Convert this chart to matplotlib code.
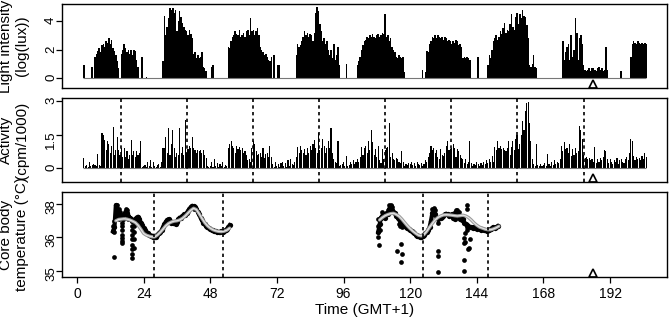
import numpy as np
import matplotlib
matplotlib.use('Agg')
import matplotlib.pyplot as plt

plt.rcParams['font.family'] = ['Liberation Sans', 'DejaVu Sans']
plt.rcParams['font.size'] = 11

# light intensity, log(lux), one value every 0.5 h from t = 2.0
light_start = 2.0
light = [
    0, 0.95, 0, 0, 0, 0, 0, 0.8, 0, 1.5, 1.7, 1.9, 2.1, 1.8, 2.3, 2.4, 2.2, 2.6, 2.5, 2.8, 2.4, 2.7, 2.1, 1.9,
    1.6, 1.2, 0.7, 0, 1.7, 2.0, 2.4, 2.1, 1.8, 2.0, 1.7, 2.0, 1.6, 2.0, 1.9, 1.3, 0.8, 0, 0, 1.5, 0, 0, 0.1, 0,
    0, 0, 0, 0, 0, 0, 0, 0, 0, 0, 1.2, 4.4, 3.0, 3.6, 4.2, 4.9, 4.8, 4.9, 4.6, 4.8, 3.3, 4.0, 4.7, 4.3,
    3.9, 3.6, 3.4, 3.3, 3.0, 3.4, 3.1, 2.8, 1.7, 1.8, 1.4, 1.6, 1.4, 1.5, 1.8, 0.8, 0.7, 0.5, 0, 0, 0, 0.8, 0.9, 0,
    0, 0, 0, 0, 0, 0, 0, 0, 0, 2.2, 2.1, 2.6, 2.9, 3.0, 3.3, 3.1, 3.0, 3.4, 2.9, 3.0, 3.2, 2.9, 3.3, 3.4,
    3.0, 4.2, 3.3, 3.4, 3.0, 3.3, 3.5, 3.0, 2.2, 2.0, 1.8, 1.6, 1.7, 1.5, 1.3, 1.2, 1.5, 0, 1.65, 0, 0, 0.9, 0.9, 0,
    0, 0, 0, 0, 0, 0, 0, 0, 0, 0, 1.65, 2.4, 2.2, 2.3, 2.6, 2.9, 3.3, 3.0, 3.2, 2.9, 3.1, 3.0, 2.6, 3.2,
    4.6, 5.0, 4.7, 3.8, 3.3, 2.6, 2.8, 2.4, 2.6, 2.0, 1.65, 2.0, 1.4, 2.4, 1.3, 1.6, 2.2, 0.9, 0, 0, 0, 0, 1.0, 0,
    0, 0, 0, 0, 0, 0, 0.9, 1.2, 1.5, 1.95, 2.3, 2.6, 2.7, 2.9, 2.8, 3.0, 2.9, 3.1, 2.9, 2.8, 3.0, 3.1, 2.9, 3.0,
    3.2, 3.1, 4.5, 2.9, 3.0, 2.6, 2.8, 2.2, 2.0, 1.8, 1.5, 1.4, 1.6, 1.5, 1.4, 1.5, 0.4, 0, 0, 0, 0, 0, 0, 0,
    0, 0, 0, 0, 0, 0.55, 0, 0.4, 1.9, 1.8, 2.4, 2.6, 2.9, 2.8, 3.0, 2.8, 3.0, 2.9, 2.8, 2.9, 2.7, 2.9, 2.8, 2.6,
    2.7, 2.6, 2.4, 2.6, 2.5, 2.7, 2.6, 2.3, 2.4, 2.2, 1.4, 1.5, 1.4, 1.5, 1.4, 1.3, 0, 0, 0, 0, 0, 1.5, 0, 0,
    0, 0, 0, 0, 0.9, 1.6, 1.4, 2.0, 2.6, 2.8, 3.0, 2.7, 2.9, 3.3, 3.1, 3.5, 3.9, 3.2, 3.4, 3.3, 3.8, 4.5, 3.6, 3.4,
    4.3, 4.6, 3.8, 4.5, 4.2, 4.8, 4.4, 4.3, 3.7, 2.8, 0.9, 0.8, 1.0, 1.65, 0.8, 0.7, 0, 0, 0, 0, 0, 0, 0, 0,
    0, 0, 0, 0, 0, 0, 0, 0, 0, 0, 2.6, 1.3, 1.8, 2.2, 2.4, 1.3, 3.0, 1.5, 2.0, 4.2, 3.2, 1.3, 2.8, 3.0,
    2.4, 0.9, 0.6, 0.5, 0.6, 0.7, 0.5, 0.7, 0.7, 0.6, 0.5, 0.7, 0.8, 0.6, 0.7, 0.5, 0.6, 2.2, 0.6, 0, 0, 0, 0, 0,
    0, 0, 0, 0, 0.5, 0, 0, 0, 0, 0, 0, 1.5, 2.4, 2.6, 2.5, 2.4, 2.6, 2.5, 2.4, 2.5, 2.4, 2.5, 2.4,
]

# activity, cpm/1000, one value every 0.5 h from t = 2.0
activity_start = 2.0
activity = [
    0, 0.45, 0.1, 0.15, 0.05, 0.3, 0.1, 0.15, 0.2, 0.15, 0.1, 0.65, 0.15, 0.1, 1.55, 1.5, 1.25, 0.8, 1.2, 1.1, 0.7, 1.0, 1.85, 0.6,
    0.8, 1.4, 0.8, 0.6, 0.9, 0.5, 0.9, 0.5, 0.75, 0.4, 0.6, 1.25, 0.6, 0.75, 0.5, 0.75, 0.6, 0.7, 1.2, 0.05, 0.1, 0.15, 0.05, 0.3,
    0.1, 0.35, 0.05, 0.3, 0.1, 0.05, 0.15, 0.2, 0.05, 0.3, 0.9, 0.9, 1.4, 0.7, 1.8, 0.6, 1.1, 1.7, 0.9, 0.5, 0.7, 0.6, 1.8, 0.7,
    0.95, 0.6, 2.15, 0.7, 0.85, 1.0, 0.9, 1.4, 0.9, 0.8, 0.7, 0.8, 0.75, 0.8, 0.7, 0.8, 0.6, 0.45, 0.1, 0.05, 0.1, 0.3, 0.05, 0.4,
    0.1, 0.25, 0.05, 0.2, 0.1, 0.3, 0.05, 0.15, 0.1, 0.9, 1.1, 1.2, 1.0, 0.9, 0.7, 1.0, 0.85, 0.95, 0.8, 0.9, 0.7, 0.75, 0.6, 0.35,
    0.4, 0.3, 0.9, 1.2, 1.1, 0.75, 0.6, 0.65, 0.7, 0.5, 0.9, 0.45, 0.65, 0.7, 0.5, 1.0, 0.5, 0.2, 0.05, 0.3, 0.1, 0.2, 0.05, 0.25,
    0.3, 0.1, 0.25, 0.05, 0.35, 0.1, 0.4, 0.2, 0.15, 0.3, 0.5, 0.95, 0.7, 1.0, 0.8, 0.7, 0.85, 0.6, 0.9, 0.7, 1.0, 0.8, 1.1, 1.25,
    0.9, 0.7, 1.55, 0.8, 0.9, 1.3, 1.0, 0.7, 0.9, 1.2, 0.9, 1.8, 0.7, 0.4, 0.3, 0.25, 1.2, 0.1, 0.15, 0.2, 0.3, 0.1, 0.55, 0.1,
    0.15, 0.3, 0.2, 0.35, 0.2, 0.3, 0.4, 0.3, 0.5, 0.95, 0.6, 0.9, 1.0, 0.7, 1.2, 0.8, 1.7, 1.15, 0.6, 0.85, 0.5, 1.0, 0.35, 0.25,
    0.85, 0.4, 0.8, 0.9, 0.95, 2.0, 0.5, 0.7, 0.4, 0.35, 0.45, 0.4, 0.3, 0.25, 0.75, 0.3, 0.1, 0.2, 0.15, 0.25, 0.2, 0.3, 0.15, 0.25,
    0.1, 0.3, 0.2, 0.15, 0.25, 0.1, 0.2, 0.35, 0.3, 0.5, 0.7, 1.0, 0.8, 0.9, 0.7, 0.8, 0.5, 0.4, 0.85, 0.6, 0.55, 0.7, 1.0, 1.2,
    0.8, 0.85, 0.9, 1.1, 0.9, 0.5, 0.85, 0.75, 0.6, 0.45, 0.4, 0.25, 0.4, 0.2, 0.3, 1.2, 0.25, 0.1, 0.2, 0.15, 0.3, 0.2, 0.1, 0.25,
    0.15, 0.3, 0.2, 0.35, 0.25, 0.4, 0.3, 0.55, 0.3, 0.95, 0.8, 1.2, 0.9, 1.0, 0.85, 0.9, 0.8, 0.75, 0.9, 1.2, 0.6, 0.95, 1.2, 0.8,
    1.3, 1.5, 0.85, 1.1, 1.5, 2.1, 1.7, 2.57, 2.9, 2.95, 2.0, 1.2, 0.4, 0.2, 0.1, 1.1, 0.15, 0.1, 0.2, 0.1, 0.15, 0.25, 0.1, 0.65,
    0.2, 0.1, 0.3, 0.15, 0.35, 0.2, 0.3, 0.25, 0.4, 1.0, 0.75, 1.15, 0.85, 0.9, 0.7, 1.1, 0.55, 0.85, 0.6, 0.9, 0.7, 0.75, 1.9, 1.7,
    1.3, 0.6, 0.45, 0.5, 0.4, 0.45, 0.35, 0.4, 0.3, 0.95, 0.25, 0.4, 0.3, 0.45, 0.35, 0.5, 0.8, 0.75, 0.4, 0.25, 0.4, 0.3, 0.2, 0.35,
    0.3, 0.45, 0.2, 0.35, 0.4, 0.3, 0.25, 0.4, 0.5, 0.35, 0.7, 1.3, 1.2, 0.55, 0.35, 0.5, 0.4, 0.45, 0.35, 0.55, 0.4, 0.7, 0.5,
]

# core body temperature (deg C), every 0.5 h, two recording blocks
temp1_start = 13.0
temp1 = [
    36.25, 36.45, 37.9, 37.6, 37.3, 37.0, 37.1, 36.9, 37.2, 37.4, 37.3, 37.1,
    37.0, 36.9, 36.8, 36.75, 36.9, 37.0, 37.05, 36.9, 36.7, 36.55, 36.4, 36.3,
    36.2, 36.15, 36.1, 36.05, 36.05, 36.0, 35.98, 36.0, 36.1, 36.15, 36.2, 36.3,
    36.45, 36.6, 36.75, 36.85, 36.9, 36.8, 36.7, 36.65, 36.7, 36.6, 36.75, 36.9,
    37.0, 36.95, 37.1, 37.2, 37.15, 37.3, 37.45, 37.6, 37.75, 37.85, 37.8, 37.75,
    37.6, 37.4, 37.2, 37.0, 36.85, 36.7, 36.6, 36.5, 36.45, 36.4, 36.35, 36.3,
    36.3, 36.25, 36.25, 36.2, 36.2, 36.2, 36.25, 36.2, 36.25, 36.3, 36.35, 36.45, 36.55,
]
temp2_start = 108.5
temp2 = [
    36.2, 36.6, 37.0, 37.1, 37.2, 37.0, 37.3, 37.2, 37.6, 37.8, 37.5, 37.4,
    37.3, 37.1, 37.0, 36.9, 36.8, 36.7, 36.6, 36.5, 36.45, 36.4, 36.35, 36.3,
    36.25, 36.2, 36.15, 36.1, 36.05, 36.05, 36.0, 36.0, 36.05, 36.1, 36.15, 36.2,
    36.3, 36.45, 36.8, 37.3, 37.5, 37.2, 37.0, 36.9, 36.95, 37.0, 37.05, 37.1,
    37.2, 37.25, 37.2, 37.1, 37.15, 37.2, 37.0, 36.9, 37.2, 37.3, 37.1, 36.9,
    36.85, 36.9, 36.7, 36.6, 36.55, 36.5, 36.45, 36.45, 36.4, 36.45, 36.4, 36.35,
    36.4, 36.35, 36.3, 36.35, 36.3, 36.3, 36.25, 36.3, 36.3, 36.35, 36.4, 36.45, 36.4, 36.45, 36.5,
]
# additional temperature readings (spread and low outliers)
extra_t = [13.4, 13.0, 13.5, 13.5, 14.0, 14.0, 14.5, 14.5, 15.0, 15.0, 15.5,
           16.3, 16.3, 16.3, 16.3, 16.3, 16.3, 16.3, 17.5, 18.0, 18.5,
           20.0, 20.0, 20.0, 20.0, 20.0, 20.0, 20.0, 20.0, 20.5, 20.5, 20.5, 20.5,
           21.5, 22.0, 41.5, 42.0,
           108.5, 108.5, 108.5, 109.0, 109.0, 110.0, 112.0, 112.5, 113.0, 113.5,
           116.0, 116.5, 117.0, 128.0, 128.5, 129.0, 136.0, 136.5, 137.0, 137.5,
           140.3, 140.3, 108.9, 115.2, 116.7, 116.9, 116.7, 130.1, 130.1, 130.1, 130.2,
           139.4, 139.6, 139.4, 139.9, 140.3, 140.6, 140.9, 141.2, 139.4, 139.3, 141.5]
extra_v = [35.33, 36.5, 36.2, 36.8, 37.4, 37.0, 37.9, 37.1, 37.6, 36.9, 37.4,
           36.7, 36.5, 36.3, 36.1, 35.95, 35.85, 35.75, 37.6, 37.5, 36.9,
           36.5, 36.3, 36.1, 35.9, 35.7, 35.55, 35.4, 35.29, 36.5, 36.2, 35.9, 35.6,
           36.7, 36.75, 37.65, 37.6,
           36.9, 36.5, 36.0, 36.3, 36.95, 37.4, 37.5, 37.9, 37.95, 37.75,
           36.6, 36.5, 36.45, 37.6, 37.7, 37.5, 37.35, 37.5, 37.55, 37.4,
           37.95, 37.6, 35.69, 35.5, 35.72, 35.4, 35.19, 36.66, 35.5, 35.36, 34.98,
           35.94, 35.8, 35.75, 36.15, 36.31, 36.47, 35.55, 35.58, 35.24, 35.0, 35.9]

# smoothed temperature curves (hourly)
smooth1_t = list(range(14, 56))
smooth1 = [36.8, 36.88, 36.9, 36.92, 36.9, 36.85, 36.78, 36.7, 36.55, 36.35, 36.15, 36.07, 36.03, 36.0,
           36.0, 36.08, 36.2, 36.35, 36.52, 36.65, 36.73, 36.78, 36.8, 36.85, 36.95, 37.1, 37.3, 37.5,
           37.65, 37.55, 37.25, 36.95, 36.7, 36.52, 36.4, 36.32, 36.27, 36.24, 36.23, 36.25, 36.3, 36.4]
smooth2_t = list(range(109, 153))
smooth2 = [36.85, 37.0, 37.12, 37.2, 37.26, 37.28, 37.2, 37.08, 36.9, 36.7, 36.52, 36.37, 36.25, 36.15, 36.07,
           36.04, 36.1, 36.25, 36.45, 36.65, 36.85, 37.0, 37.1, 37.17, 37.18, 37.17, 37.15, 37.12, 37.1, 37.12,
           37.15, 37.1, 37.0, 36.85, 36.68, 36.55, 36.45, 36.4, 36.35, 36.32, 36.32, 36.36, 36.42, 36.5]

activity_marks = [15.7, 39.5, 63.3, 87.2, 110.9, 134.7, 158.6, 182.6]
temp_marks = [27.8, 52.7, 124.5, 147.9]
event_t = 186.0
xticks = [0, 24, 48, 72, 96, 120, 144, 168, 192]


def style(ax):
    for s in ax.spines.values():
        s.set_linewidth(1.0)
    ax.tick_params(direction='out', length=4.5, width=0.9, labelsize=10)
    ax.tick_params(axis='y', labelrotation=90, pad=-1.0, labelsize=9.5)
    ax.set_xlim(-5.4, 212.5)


fig = plt.figure(figsize=(6.7, 3.19), dpi=100)
ax1 = fig.add_axes([0.0925, 0.7241, 0.903, 0.2633])
ax2 = fig.add_axes([0.0925, 0.4295, 0.903, 0.2633])
ax3 = fig.add_axes([0.0925, 0.1317, 0.903, 0.2665])

# light
lt = light_start + 0.5 * np.arange(len(light))
ax1.hlines(0, lt[0] + 0.3, lt[-1], color='#777777', lw=0.8)
ax1.bar(lt, light, width=0.56, color='black', linewidth=0)
ax1.plot([event_t], [-0.42], marker='^', ms=6, mfc='white', mec='black', mew=1.2, ls='none')
ax1.set_ylim(-0.70, 5.21)
ax1.set_yticks([0, 2, 4])
ax1.set_xticks([])
ax1.set_ylabel('Light intensity\n(log(lux))', linespacing=1.25)
style(ax1)

# activity
at = activity_start + 0.5 * np.arange(len(activity))
ax2.hlines(0, at[0] + 0.3, at[-1], color='#777777', lw=0.8)
ax2.bar(at, activity, width=0.4, color='black', linewidth=0)
for m in activity_marks:
    ax2.axvline(m, color='black', lw=1.2, ls=(0, (2, 2)))
ax2.plot([event_t], [-0.45], marker='^', ms=6, mfc='white', mec='black', mew=1.2, ls='none')
ax2.set_ylim(-0.61, 3.13)
ax2.set_yticks([0, 1.5, 3])
ax2.set_yticklabels(['0', '1.5', '3'])
ax2.set_xticks([])
ax2.set_ylabel('Activity\n(cpm/1000)', linespacing=1.25)
style(ax2)


# temperature, on a compressed scale
def fwd(v):
    return np.log(np.clip(np.asarray(v, dtype=float) - 34.1, 1e-3, None))


def inv(v):
    return 34.1 + np.exp(v)


ax3.set_yscale('function', functions=(fwd, inv))
t1 = temp1_start + 0.5 * np.arange(len(temp1))
t2 = temp2_start + 0.5 * np.arange(len(temp2))
for tt, vv in [(t1, temp1), (t2, temp2)]:
    ax3.plot(tt, vv, '-', color='black', lw=3.0)
    ax3.plot(tt, vv, 'o', color='black', ms=3.8, mew=0)
ax3.plot(extra_t, extra_v, 'o', color='black', ms=3.4, mew=0)
for st, sv in [(smooth1_t, smooth1), (smooth2_t, smooth2)]:
    ax3.plot(st, sv, color='#9a9a9a', lw=2.4, solid_capstyle='round')
    ax3.plot(st, sv, color='#e4e4e4', lw=0.9, solid_capstyle='round')
for m in temp_marks:
    ax3.axvline(m, color='black', lw=1.2, ls=(0, (2, 2)))
ax3.plot([event_t], [34.97], marker='^', ms=6, mfc='white', mec='black', mew=1.2, ls='none')
ax3.set_ylim(34.89, 39.17)
ax3.set_yticks([35, 36, 38])
ax3.set_yticklabels(['35', '36', '38'])
ax3.minorticks_off()
ax3.set_xticks(xticks)
ax3.set_ylabel('Core body\ntemperature (\u00b0C)', linespacing=1.25)
ax3.set_xlabel('Time (GMT+1)', labelpad=2)
style(ax3)
ax3.tick_params(axis='x', pad=2.5)

for ax in (ax1, ax2, ax3):
    ax.yaxis.set_label_coords(-0.054, 0.5)

fig.savefig('out.png', dpi=100)
